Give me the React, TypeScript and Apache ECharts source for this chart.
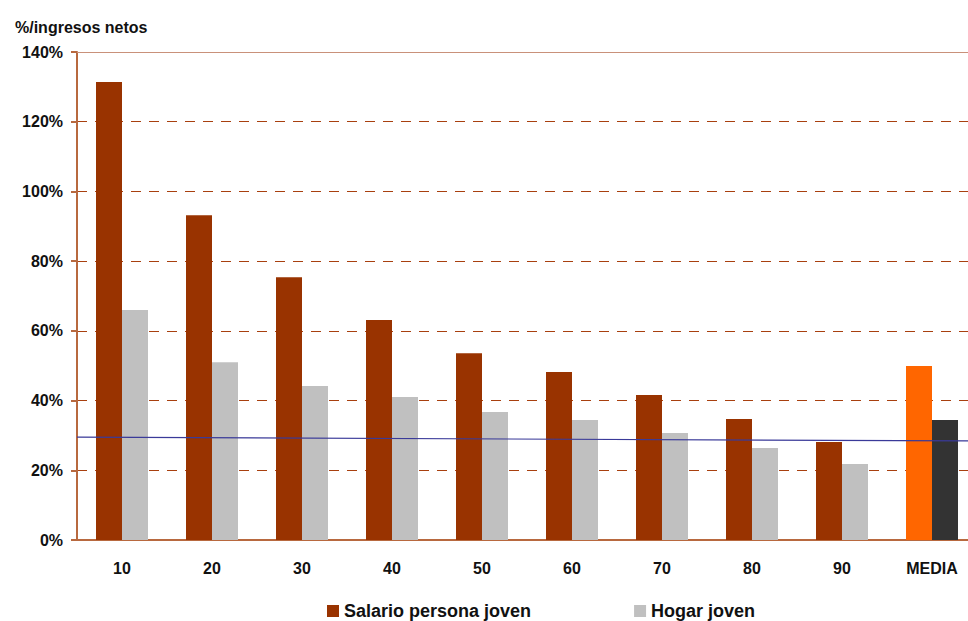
import React, { useEffect, useRef } from "react";
import * as echarts from "echarts";

const categories = ["10", "20", "30", "40", "50", "60", "70", "80", "90", "MEDIA"];
const salarioPersonaJoven = [131.4, 93.2, 75.4, 63.1, 53.6, 48.2, 41.6, 34.7, 28.1, 49.9];
const hogarJoven = [66.0, 51.0, 44.2, 41.0, 36.7, 34.4, 30.7, 26.4, 21.8, 34.4];
const trendLine = [
  [0, 29.5],
  [1, 28.4],
];
const yTicks = { min: 0, max: 140, interval: 20 };

const FONT = "'Liberation Sans', Arial, sans-serif";

export default function App() {
  const ref = useRef<HTMLDivElement>(null);
  useEffect(() => {
    if (!ref.current) return;
    const chart = echarts.init(ref.current, null, { renderer: "svg" });
    const lastIdx = categories.length - 1;
    chart.setOption({
      animation: false,
      backgroundColor: "#ffffff",
      textStyle: { fontFamily: FONT },
      title: {
        text: "%/ingresos netos",
        left: 10,
        top: 14,
        textStyle: { fontFamily: FONT, fontWeight: "bold", fontSize: 16, color: "#111" },
      },
      legend: {
        left: 322,
        top: 597,
        itemWidth: 12,
        itemHeight: 12,
        itemGap: 103,
        icon: "rect",
        textStyle: { fontFamily: FONT, fontWeight: "bold", fontSize: 18, color: "#111" },
        data: ["Salario persona joven", "Hogar joven"],
      },
      grid: {
        left: 77,
        top: 52,
        width: 900,
        height: 488,
        containLabel: false,
        outerBoundsMode: "none",
      },
      xAxis: [
        {
          type: "category",
          data: categories,
          axisLine: { show: true, lineStyle: { color: "#b8693f", width: 2 } },
          axisTick: { show: false },
          axisLabel: {
            margin: 20,
            fontFamily: FONT,
            fontWeight: "bold",
            fontSize: 16,
            color: "#111",
          },
        },
        {
          type: "value",
          min: 0,
          max: 1,
          position: "top",
          axisLine: { show: true, onZero: false, lineStyle: { color: "#c9917a", width: 1 } },
          axisTick: { show: false },
          axisLabel: { show: false },
          splitLine: { show: false },
        },
      ],
      yAxis: {
        type: "value",
        min: yTicks.min,
        max: yTicks.max,
        interval: yTicks.interval,
        axisLine: { show: true, lineStyle: { color: "#b8693f", width: 2 } },
        axisTick: { show: true, length: 6, lineStyle: { color: "#b8693f", width: 2 } },
        axisLabel: {
          formatter: "{value}%",
          margin: 14,
          fontFamily: FONT,
          fontWeight: "bold",
          fontSize: 16,
          color: "#111",
        },
        splitLine: {
          show: true,
          lineStyle: { color: "#a8400f", width: 1, type: [10, 8] },
        },
      },
      series: [
        {
          name: "Salario persona joven",
          type: "bar",
          barWidth: 26,
          barGap: "0%",
          itemStyle: { color: "#993300" },
          data: salarioPersonaJoven.map((v, i) =>
            i === lastIdx ? { value: v, itemStyle: { color: "#ff6600" } } : v
          ),
        },
        {
          name: "Hogar joven",
          type: "bar",
          barWidth: 26,
          barGap: "0%",
          itemStyle: { color: "#c0c0c0" },
          data: hogarJoven.map((v, i) =>
            i === lastIdx ? { value: v, itemStyle: { color: "#333333" } } : v
          ),
        },
        {
          name: "Tendencia",
          type: "line",
          xAxisIndex: 1,
          data: trendLine,
          symbol: "none",
          lineStyle: { color: "#3a3a99", width: 1.2 },
          z: 5,
        },
      ],
    });
    return () => chart.dispose();
  }, []);
  return (
    <div
      ref={ref}
      style={{ position: "fixed", left: 0, top: 0, width: 968, height: 621 }}
    />
  );
}
